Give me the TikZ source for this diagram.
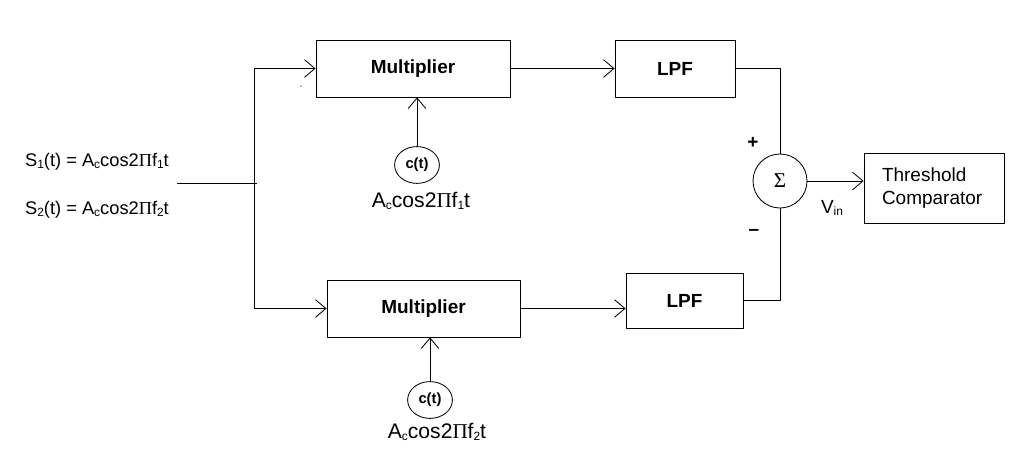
\documentclass[tikz,border=0pt]{standalone}
\usepackage{fontspec}
\setmainfont{Liberation Sans}
\newfontfamily\symfont{Liberation Serif}
\usetikzlibrary{arrows.meta,shapes.geometric}
\newcommand{\lowsub}[1]{\raisebox{-0.2ex}{\fontsize{8.5}{9}\selectfont #1}}
\newcommand{\carrier}[1]{A\lowsub{c}cos2{\symfont Π}f\lowsub{#1}t}

\begin{document}
\begin{tikzpicture}[x=0.025cm, y=-0.025cm, font=\fontsize{13.5}{16}\selectfont, line join=round, line width=0.6pt,
    >={Straight Barb[length=2.6mm,width=4.4mm]},
    blk/.style={draw, rectangle, minimum height=1.425cm, font=\fontsize{13.5}{16}\selectfont\bfseries},
    src/.style={draw, ellipse, minimum width=1.12cm, minimum height=0.92cm, inner sep=0pt, font=\fontsize{10.5}{12}\selectfont\bfseries},
    biglab/.style={font=\fontsize{15}{16}\selectfont}]
    \useasboundingbox (0,0) rectangle (1016,457);
    % blocks
    \node[blk, minimum width=4.85cm] (mult1) at (413,68.5) {Multiplier};
    \node[blk, minimum width=3cm] (lpf1) at (675,68.5) {LPF};
    \node[blk, minimum width=4.825cm] (mult2) at (423.5,308.5) {Multiplier};
    \node[blk, minimum width=2.925cm, minimum height=1.375cm] (lpf2) at (684.5,300.5) {LPF};
    \node[draw, circle, minimum size=1.35cm, inner sep=0pt, font=\fontsize{15}{16}\selectfont\symfont] (sum) at (780,181) {Σ};
    \node[draw, minimum height=1.75cm, inner xsep=0.45cm, text width=2.6cm, align=left] (thr) at (934,188) {Threshold\\Comparator};
    \node[src] (ct1) at (417,165) {c(t)};
    \node[src] (ct2) at (430,400) {c(t)};
    % labels
    \node[biglab] (lab1) at (421,201) {\carrier{1}};
    \node[biglab] (lab2) at (437,432) {\carrier{2}};
    \node[anchor=west, font=\fontsize{13}{16}\selectfont] (s1) at (20,162) {S\lowsub{1}(t) = \carrier{1}};
    \node[anchor=west, font=\fontsize{13}{16}\selectfont] (s2) at (20,210) {S\lowsub{2}(t) = \carrier{2}};
    \node (plus) at (753,143) {\textbf{+}};
    \node (minus) at (754,232) {\textbf{–}};
    \node (vin) at (832,208) {V\lowsub{in}};
    \node[font=\tiny] (stray) at (301,87) {-};
    % input split
    \coordinate (in) at (177,183);
    \coordinate (split) at (257,183);
    \coordinate (top) at (254,68.5);
    \coordinate (bot) at (254,308.5);
    \draw (in) -- (split);
    \draw (top) -- (bot);
    \draw[->] (top) -- (mult1.west);
    \draw[->] (bot) -- (mult2.west);
    % connections
    \draw[->] (mult1) -- (lpf1);
    \draw[->] (mult2.east) -- (mult2.east -| lpf2.west);
    \draw (lpf1.east) -| (sum.north);
    \draw (lpf2.east) -| (sum.south);
    \draw[->] (sum) -- (sum -| thr.west);
    \draw[->] (ct1) -- (ct1 |- mult1.south);
    \draw[->] (ct2) -- (ct2 |- mult2.south);
\end{tikzpicture}
\end{document}
